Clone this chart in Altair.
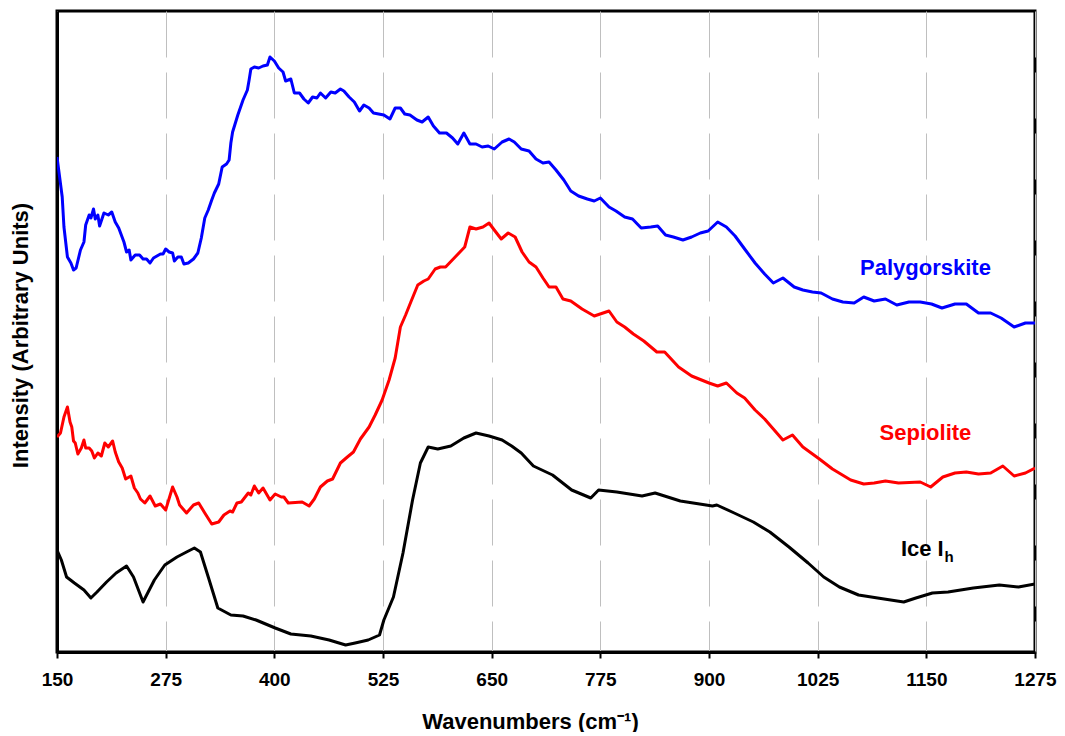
import altair as alt
import pandas as pd

# ---------------- data ----------------
paly_wn = [150, 156, 158, 162, 166, 169, 172, 177, 181, 183, 187, 189, 192, 194, 197, 199, 204, 209, 213, 217,
           221, 227, 230, 233, 235, 240, 245, 249, 253, 257, 261, 269, 272, 275, 279, 283, 285, 289, 293, 296,
           301, 307, 312, 316, 320, 324, 328, 331, 336, 340, 345, 348, 350, 352, 358, 364, 369, 371, 373, 377,
           382, 387, 392, 395, 400, 405, 410, 413, 419, 423, 429, 434, 439, 444, 449, 453, 459, 465, 470, 476,
           480, 486, 492, 498, 503, 509, 514, 526, 533, 539, 545, 550, 556, 564, 570, 577, 583, 590, 598, 605,
           611, 618, 625, 632, 639, 646, 653, 662, 670, 676, 684, 693, 701, 709, 716, 724, 733, 741, 750, 760,
           768, 775, 785, 793, 803, 812, 822, 833, 841, 850, 859, 870, 880, 890, 899, 910, 920, 930, 941, 953,
           964, 974, 985, 998, 1008, 1019, 1029, 1042, 1054, 1067, 1078, 1090, 1103, 1116, 1130, 1143, 1156,
           1168, 1183, 1196, 1210, 1224, 1236, 1251, 1264, 1275]
paly_int = [495, 455, 425, 395, 389, 382, 384, 402, 410, 427, 437, 434, 443, 433, 437, 426, 439, 437, 440, 430,
            424, 410, 400, 402, 392, 397, 397, 393, 393, 389, 394, 398, 398, 403, 400, 399, 391, 395, 395, 388,
            389, 393, 399, 414, 434, 442, 452, 459, 468, 485, 488, 492, 509, 520, 537, 552, 562, 572, 583, 585,
            584, 586, 587, 595, 591, 584, 580, 571, 573, 559, 559, 553, 549, 555, 554, 559, 554, 560, 559, 563,
            561, 555, 550, 541, 547, 544, 539, 537, 533, 544, 544, 538, 537, 532, 530, 535, 526, 519, 519, 514,
            508, 519, 508, 508, 505, 506, 503, 510, 513, 510, 503, 501, 493, 489, 490, 482, 472, 461, 456, 453,
            451, 454, 445, 441, 435, 433, 424, 425, 426, 417, 415, 412, 415, 419, 421, 430, 425, 416, 403, 389,
            378, 369, 374, 365, 362, 360, 359, 353, 350, 349, 355, 351, 353, 347, 350, 350, 348,
            344, 348, 348, 339, 339, 334, 325, 329, 329]

sep_wn = [150, 154, 158, 162, 165, 167, 169, 171, 174, 178, 181, 183, 187, 190, 193, 197, 201, 205, 209, 214,
          217, 221, 225, 229, 235, 239, 243, 246, 251, 257, 263, 269, 275, 283, 288, 291, 299, 307, 313, 320,
          328, 336, 342, 349, 352, 357, 362, 370, 373, 377, 382, 387, 395, 401, 408, 411, 416, 432, 440, 446,
          453, 461, 467, 476, 484, 491, 499, 509, 516, 524, 532, 539, 545, 551, 557, 565, 572, 577, 585, 591,
          597, 608, 619, 625, 632, 640, 647, 653, 661, 669, 677, 685, 693, 701, 709, 716, 724, 732, 741, 754,
          768, 785, 794, 803, 813, 825, 840, 849, 865, 880, 900, 910, 920, 932, 941, 953, 964, 985, 996, 1008,
          1027, 1042, 1063, 1078, 1090, 1103, 1118, 1143, 1155, 1169, 1183, 1196, 1210, 1224, 1238, 1251, 1264,
          1275]
sep_int = [215, 219, 235, 245, 230, 225, 211, 209, 198, 204, 212, 204, 204, 201, 194, 199, 196, 209, 205, 211,
           200, 190, 184, 173, 176, 164, 159, 153, 149, 156, 146, 148, 142, 165, 155, 147, 139, 147, 149, 139,
           128, 130, 137, 141, 140, 149, 150, 159, 157, 166, 159, 164, 152, 158, 155, 155, 149, 150, 146, 153,
           165, 171, 173, 189, 195, 200, 213, 225, 237, 252, 272, 294, 325, 337, 350, 367, 371, 373, 383, 385,
           385, 395, 405, 425, 423, 425, 429, 422, 413, 419, 415, 400, 390, 385, 374, 365, 365, 353, 351, 343,
           336, 341, 330, 325, 318, 311, 300, 300, 285, 276, 269, 266, 269, 259, 254, 242, 233, 212, 217, 205,
           193, 183, 172, 168, 169, 171, 169, 170, 165, 175, 179, 180, 178, 179, 186, 176, 179,
           184]

ice_wn = [150, 155, 161, 170, 181, 189, 196, 207, 218, 230, 238, 249, 262, 274, 288, 299, 308, 315, 324, 335,
          350, 364, 379, 401, 419, 442, 463, 482, 493, 508, 521, 526, 537, 548, 559, 568, 577, 588, 603, 618,
          632, 647, 662, 673, 684, 698, 720, 742, 764, 773, 794, 823, 838, 867, 904, 909, 929, 951, 970, 992,
          1014, 1032, 1050, 1072, 1094, 1124, 1138, 1157, 1175, 1204, 1234, 1256, 1275]
ice_int = [102, 92, 75, 69, 62, 54, 60, 70, 79, 86, 75, 50, 72, 87, 95, 100, 104, 100, 75, 44,
           37, 36, 32, 24, 18, 16, 12, 7, 9, 12, 17, 32, 55, 99, 152, 189, 205, 203, 206, 214,
           219, 216, 212, 206, 199, 186, 177, 162, 154, 162, 160, 156, 159, 151, 146, 147, 139, 130, 120, 105,
           89, 75, 65, 57, 54, 50, 54, 59, 60, 64, 67, 65, 68]

series_names = ["Palygorskite", "Sepiolite", "Ice Ih"]
series_colors = ["#0000ff", "#ff0000", "#000000"]
tick_values = [150, 275, 400, 525, 650, 775, 900, 1025, 1150, 1275]

label_text = ["Palygorskite", "Sepiolite"]
label_wn = [1149, 1149]
label_int = [384, 219]
label_color = ["#0000ff", "#ff0000"]

# ---------------- tables ----------------
rows = []
for name, wns, ints in [("Palygorskite", paly_wn, paly_int),
                        ("Sepiolite", sep_wn, sep_int),
                        ("Ice Ih", ice_wn, ice_int)]:
    for w, i in zip(wns, ints):
        rows.append({"series": name, "wn": w, "intensity": i})
df = pd.DataFrame(rows)

labels = pd.DataFrame({"text": label_text, "wn": label_wn, "intensity": label_int, "color": label_color})
ice_main = pd.DataFrame({"text": ["Ice I"], "wn": [1170], "intensity": [103]})
ice_sub = pd.DataFrame({"text": ["h"], "wn": [1171], "intensity": [95]})

FONT = "Liberation Sans"

x_scale = alt.Scale(domain=[150, 1275], nice=False, zero=False)
y_scale = alt.Scale(domain=[0, 641], nice=False, zero=False)

lines = alt.Chart(df).mark_line(strokeWidth=3, clip=True, strokeJoin="round").encode(
    x=alt.X("wn:Q", scale=x_scale,
            axis=alt.Axis(values=tick_values, title="Wavenumbers (cm⁻¹)", format="d",
                          grid=True, gridDash=[46, 15], gridColor="#bfbfbf", gridWidth=1,
                          ticks=True, tickSize=6, tickWidth=2, tickColor="#000000",
                          domain=True, domainColor="#000000", domainWidth=3,
                          labelFont=FONT, labelFontSize=19, labelFontWeight="bold",
                          labelColor="#000000", labelPadding=12, labelFlush=False,
                          labelOverlap=False,
                          titleFont=FONT, titleFontSize=22, titleFontWeight="bold",
                          titleColor="#000000", titleX=473, titleY=69,
                          titleBaseline="middle")),
    y=alt.Y("intensity:Q", scale=y_scale,
            axis=alt.Axis(labels=False, ticks=False, grid=False, domain=True,
                          domainColor="#000000", domainWidth=3,
                          title="Intensity (Arbitrary Units)",
                          titleFont=FONT, titleFontSize=22, titleFontWeight="bold",
                          titleColor="#000000", titleX=-37, titleY=324,
                          titleAngle=-90, titleBaseline="middle")),
    color=alt.Color("series:N", scale=alt.Scale(domain=series_names, range=series_colors), legend=None),
    order=alt.Order("wn:Q"),
)

text_main = alt.Chart(labels).mark_text(font=FONT, fontSize=22, fontWeight="bold",
                                        align="center", baseline="middle").encode(
    x=alt.X("wn:Q", scale=x_scale),
    y=alt.Y("intensity:Q", scale=y_scale),
    text="text:N",
    color=alt.Color("color:N", scale=None),
)

text_ice = alt.Chart(ice_main).mark_text(font=FONT, fontSize=22, fontWeight="bold",
                                         align="right", baseline="middle", color="#000000").encode(
    x=alt.X("wn:Q", scale=x_scale),
    y=alt.Y("intensity:Q", scale=y_scale),
    text="text:N",
)

text_sub = alt.Chart(ice_sub).mark_text(font=FONT, fontSize=15, fontWeight="bold",
                                        align="left", baseline="middle", color="#000000").encode(
    x=alt.X("wn:Q", scale=x_scale),
    y=alt.Y("intensity:Q", scale=y_scale),
    text="text:N",
)

chart = alt.layer(lines, text_main, text_ice, text_sub).properties(
    width=978, height=641,
    autosize=alt.AutoSizeParams(type="none"),
    padding={"left": 49, "top": 3, "right": 22, "bottom": 80},
    background="#ffffff",
).configure_view(stroke="#000000", strokeWidth=3)

chart.save("out.html", embed_options={"renderer": "svg", "actions": False})
